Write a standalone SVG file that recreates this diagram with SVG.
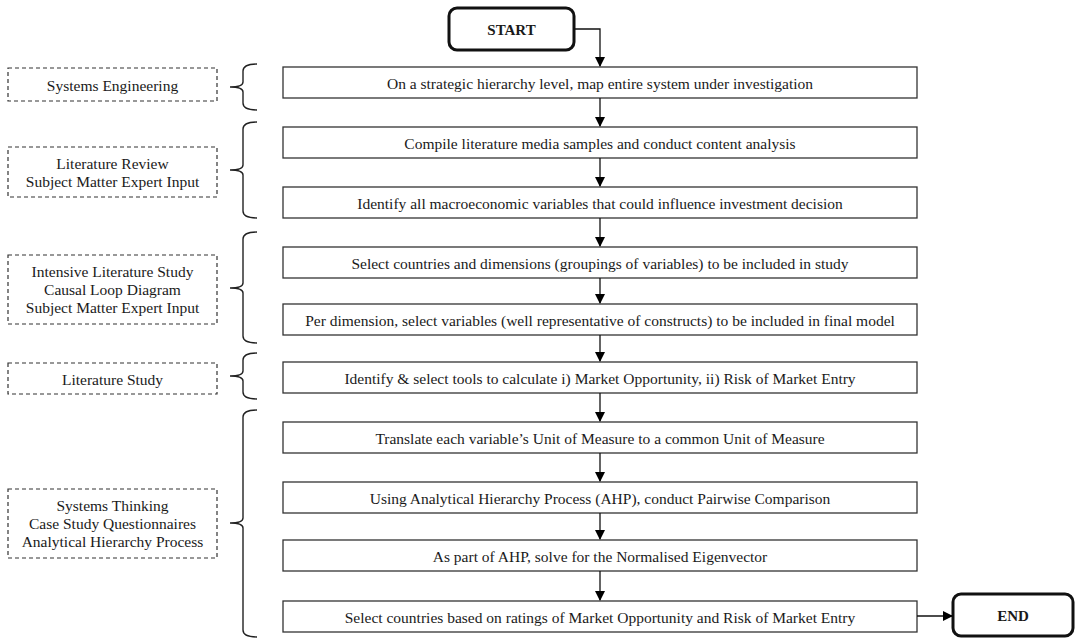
<svg xmlns="http://www.w3.org/2000/svg" width="1076" height="638" viewBox="0 0 1076 638">
<style>
.box{fill:#fff;stroke:#333;stroke-width:1.3}
.term{fill:#fff;stroke:#111;stroke-width:3}
.dash{fill:#fff;stroke:#333;stroke-width:1.2;stroke-dasharray:4 3}
.t{font-family:"Liberation Serif","Times New Roman",serif;font-size:15.5px;fill:#1a1a1a;text-anchor:middle;dominant-baseline:central}
.b{font-weight:bold;font-size:15px}
.ln{fill:none;stroke:#111;stroke-width:1.3}
.br{fill:none;stroke:#222;stroke-width:1.4}
</style>
<defs>
<marker id="ah" markerWidth="10" markerHeight="10" refX="9" refY="5" orient="auto" markerUnits="userSpaceOnUse">
<path d="M0,0 L10,5 L0,10 Z" fill="#000"/>
</marker>
</defs>
<g id="start"><rect class="term" x="449" y="8" width="125" height="42" rx="8"/><text class="t b" x="511.5" y="29.5">START</text></g>
<g id="end"><rect class="term" x="953" y="594" width="120" height="42" rx="8"/><text class="t b" x="1013" y="615.5">END</text></g>
<g id="s1"><rect class="box" x="283" y="67" width="634" height="31"/><text class="t" x="600" y="83.5">On a strategic hierarchy level, map entire system under investigation</text></g>
<g id="s2"><rect class="box" x="283" y="127" width="634" height="31"/><text class="t" x="600" y="143.5">Compile literature media samples and conduct content analysis</text></g>
<g id="s3"><rect class="box" x="283" y="187" width="634" height="31"/><text class="t" x="600" y="203.5">Identify all macroeconomic variables that could influence investment decision</text></g>
<g id="s4"><rect class="box" x="283" y="247" width="634" height="31"/><text class="t" x="600" y="263.5">Select countries and dimensions (groupings of variables) to be included in study</text></g>
<g id="s5"><rect class="box" x="283" y="304" width="634" height="31"/><text class="t" x="600" y="320.5">Per dimension, select variables (well representative of constructs) to be included in final model</text></g>
<g id="s6"><rect class="box" x="283" y="362" width="634" height="31"/><text class="t" x="600" y="378.5">Identify &amp; select tools to calculate i) Market Opportunity, ii) Risk of Market Entry</text></g>
<g id="s7"><rect class="box" x="283" y="422" width="634" height="31"/><text class="t" x="600" y="438.5">Translate each variable’s Unit of Measure to a common Unit of Measure</text></g>
<g id="s8"><rect class="box" x="283" y="482" width="634" height="31"/><text class="t" x="600" y="498.5">Using Analytical Hierarchy Process (AHP), conduct Pairwise Comparison</text></g>
<g id="s9"><rect class="box" x="283" y="540" width="634" height="31"/><text class="t" x="600" y="556.5">As part of AHP, solve for the Normalised Eigenvector</text></g>
<g id="s10"><rect class="box" x="283" y="601" width="634" height="31"/><text class="t" x="600" y="617.5">Select countries based on ratings of Market Opportunity and Risk of Market Entry</text></g>
<g id="m1"><rect class="dash" x="8" y="68" width="209" height="33"/><text class="t" x="112.5" y="85">Systems Engineering</text></g>
<g id="m2"><rect class="dash" x="8" y="147" width="209" height="50"/><text class="t" x="112.5" y="163.5">Literature Review</text><text class="t" x="112.5" y="181.5">Subject Matter Expert Input</text></g>
<g id="m3"><rect class="dash" x="8" y="255" width="209" height="69"/><text class="t" x="112.5" y="271.5">Intensive Literature Study</text><text class="t" x="112.5" y="289.5">Causal Loop Diagram</text><text class="t" x="112.5" y="307.5">Subject Matter Expert Input</text></g>
<g id="m4"><rect class="dash" x="8" y="363" width="209" height="31"/><text class="t" x="112.5" y="379">Literature Study</text></g>
<g id="m5"><rect class="dash" x="8" y="489" width="209" height="69"/><text class="t" x="112.5" y="505.5">Systems Thinking</text><text class="t" x="112.5" y="523.5">Case Study Questionnaires</text><text class="t" x="112.5" y="541.5">Analytical Hierarchy Process</text></g>
<g id="braces">
<path class="br" d="M257,64 Q243,64 243,71 L243,82 Q243,87 230,87 Q243,87 243,92 L243,103 Q243,110 257,110"/>
<path class="br" d="M257,122 Q243,122 243,129 L243,165 Q243,170 230,170 Q243,170 243,175 L243,211 Q243,218 257,218"/>
<path class="br" d="M257,232 Q243,232 243,239 L243,283 Q243,288 230,288 Q243,288 243,293 L243,336 Q243,343 257,343"/>
<path class="br" d="M257,353 Q243,353 243,360 L243,371 Q243,376 230,376 Q243,376 243,381 L243,392 Q243,399 257,399"/>
<path class="br" d="M257,410 Q243,410 243,417 L243,518 Q243,523 230,523 Q243,523 243,528 L243,630 Q243,637 257,637"/>
</g>
<g id="connectors">
<path class="ln" d="M574,29 L600,29 L600,66" marker-end="url(#ah)"/>
<path class="ln" d="M600,98 L600,126" marker-end="url(#ah)"/>
<path class="ln" d="M600,158 L600,186" marker-end="url(#ah)"/>
<path class="ln" d="M600,218 L600,246" marker-end="url(#ah)"/>
<path class="ln" d="M600,278 L600,303" marker-end="url(#ah)"/>
<path class="ln" d="M600,335 L600,361" marker-end="url(#ah)"/>
<path class="ln" d="M600,393 L600,421" marker-end="url(#ah)"/>
<path class="ln" d="M600,453 L600,481" marker-end="url(#ah)"/>
<path class="ln" d="M600,513 L600,539" marker-end="url(#ah)"/>
<path class="ln" d="M600,571 L600,600" marker-end="url(#ah)"/>
<path class="ln" d="M917,616 L952,616" marker-end="url(#ah)"/>
</g>
</svg>
